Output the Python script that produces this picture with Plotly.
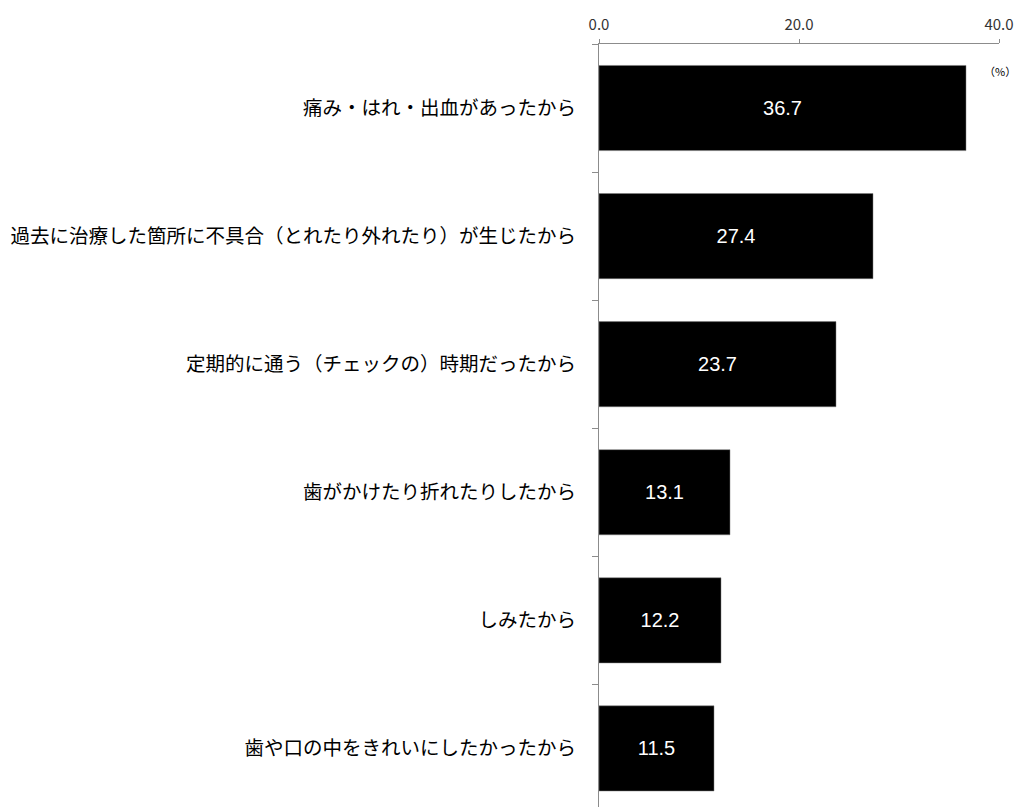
import plotly.graph_objects as go

categories = [
    "痛み・はれ・出血があったから",
    "過去に治療した箇所に不具合（とれたり外れたり）が生じたから",
    "定期的に通う（チェックの）時期だったから",
    "歯がかけたり折れたりしたから",
    "しみたから",
    "歯や口の中をきれいにしたかったから",
]
values = [36.7, 27.4, 23.7, 13.1, 12.2, 11.5]
x_ticks = [0, 20, 40]

fig = go.Figure()
fig.add_trace(go.Bar(
    y=categories,
    x=values,
    orientation="h",
    marker=dict(color="#000000", line=dict(color="#7f7f7f", width=0.5)),
    width=0.665,
    text=[f"{v:.1f}" for v in values],
    textposition="inside",
    insidetextanchor="middle",
    textfont=dict(family="Liberation Sans, Arial", size=20, color="#ffffff"),
    constraintext="none",
    cliponaxis=False,
    hoverinfo="skip",
))

fig.update_layout(
    width=1023,
    height=807,
    margin=dict(l=591, r=32, t=36, b=0),
    paper_bgcolor="#ffffff",
    plot_bgcolor="#ffffff",
    showlegend=False,
    font=dict(family="Noto Sans CJK JP", color="#000000"),
    xaxis=dict(
        side="top",
        range=[0, 40],
        tickvals=x_ticks,
        tickformat=".1f",
        showgrid=False,
        zeroline=False,
        showline=True,
        linecolor="#8c8c8c",
        linewidth=1,
        ticks="outside",
        ticklen=4,
        tickcolor="#8c8c8c",
        ticklabelstandoff=3,
        tickfont=dict(family="Noto Sans CJK JP", size=15, color="#333333"),
        fixedrange=True,
    ),
    yaxis=dict(
        type="category",
        categoryorder="array",
        categoryarray=categories,
        range=[5.52, -0.5],
        showgrid=False,
        zeroline=False,
        showline=True,
        linecolor="#8c8c8c",
        linewidth=1,
        ticks="outside",
        tickson="boundaries",
        ticklen=6,
        tickcolor="#8c8c8c",
        ticklabelstandoff=18,
        tickfont=dict(family="Noto Sans CJK JP", size=19.5, color="#000000"),
        fixedrange=True,
    ),
    annotations=[dict(
        text="（%）",
        xref="paper", yref="paper",
        x=1.0, y=1.0,
        xanchor="right", yanchor="top",
        xshift=19, yshift=-17,
        showarrow=False,
        font=dict(family="Noto Sans CJK JP", size=11, color="#000000"),
    )],
)

fig.write_html("out.html")
